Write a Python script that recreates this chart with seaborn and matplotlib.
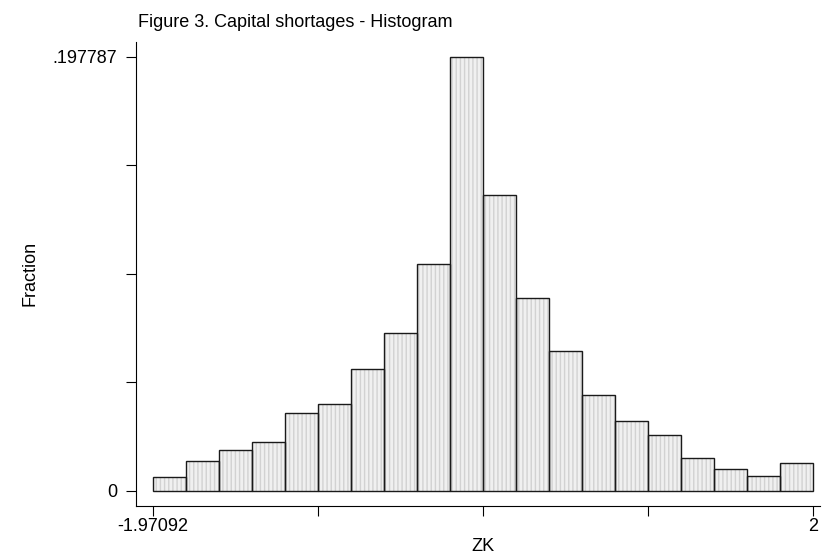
import numpy as np
import pandas as pd
import matplotlib.pyplot as plt
import seaborn as sns

sns.set_style("ticks")
plt.rcParams['font.family'] = ['Liberation Sans', 'DejaVu Sans']
plt.rcParams['text.color'] = 'black'

# histogram of ZK, 20 bins, heights (fraction)
X_MIN = -1.97092
X_MAX = 2.0
Y_MAX = 0.197787
fractions = [0.00607, 0.01356, 0.01840, 0.02205, 0.03547, 0.03939, 0.05555,
             0.07180, 0.10330, 0.197787, 0.13466, 0.08796, 0.06359, 0.04368,
             0.03163, 0.02511, 0.01493, 0.00972, 0.00639, 0.01246]
x_ticklabels = ['-1.97092', '', '', '', '2']
y_ticklabels = ['0', '', '', '', '.197787']

n_bins = len(fractions)
edges = np.linspace(X_MIN, X_MAX, n_bins + 1)
df = pd.DataFrame({'ZK': (edges[:-1] + edges[1:]) / 2, 'frac': fractions})

W, H = 823, 557
fig = plt.figure(figsize=(W / 100, H / 100), dpi=100)
ax = fig.add_axes([136 / W, (H - 506) / H, (820 - 136) / W, (506 - 42) / H])

# dotted grey fill, then dark outlines on top
sns.histplot(data=df, x='ZK', weights='frac', bins=n_bins,
             binrange=(X_MIN, X_MAX), ax=ax,
             color='#f0f0f0', edgecolor='#d2d2d2', linewidth=0,
             hatch='||||', alpha=1)
sns.histplot(data=df, x='ZK', weights='frac', bins=n_bins,
             binrange=(X_MIN, X_MAX), ax=ax,
             fill=False, color='#1a1a1a', linewidth=1.0)

xs = (X_MAX - X_MIN) / 660
ys = Y_MAX / 433.8
ax.set_xlim(X_MIN - 17 * xs, X_MAX + 7 * xs)
ax.set_ylim(-15.5 * ys, Y_MAX + 14.7 * ys)

ax.set_xticks(np.linspace(X_MIN, X_MAX, 5))
ax.set_xticklabels(x_ticklabels)
ax.set_yticks(np.linspace(0, Y_MAX, 5))
ax.set_yticklabels(y_ticklabels)
ax.tick_params(axis='both', length=7.2, width=0.8, color='black',
               labelsize=13, labelcolor='black', direction='out')
ax.tick_params(axis='x', pad=1.5)
ax.tick_params(axis='y', pad=6.5)

for side in ['top', 'right']:
    ax.spines[side].set_visible(False)
for side in ['left', 'bottom']:
    ax.spines[side].set_linewidth(0.8)
    ax.spines[side].set_color('black')

ax.set_xlabel('')
ax.set_ylabel('')
fig.text(483 / W, 1 - 551 / H, 'ZK', ha='center', va='baseline', fontsize=13)
fig.text(30 / W, 1 - 273 / H, 'Fraction', ha='center', va='center',
         rotation=90, fontsize=13)
fig.text(138 / W, 1 - 26.7 / H, 'Figure 3. Capital shortages - Histogram',
         ha='left', va='baseline', fontsize=13)

plt.savefig('out.png', dpi=100)
